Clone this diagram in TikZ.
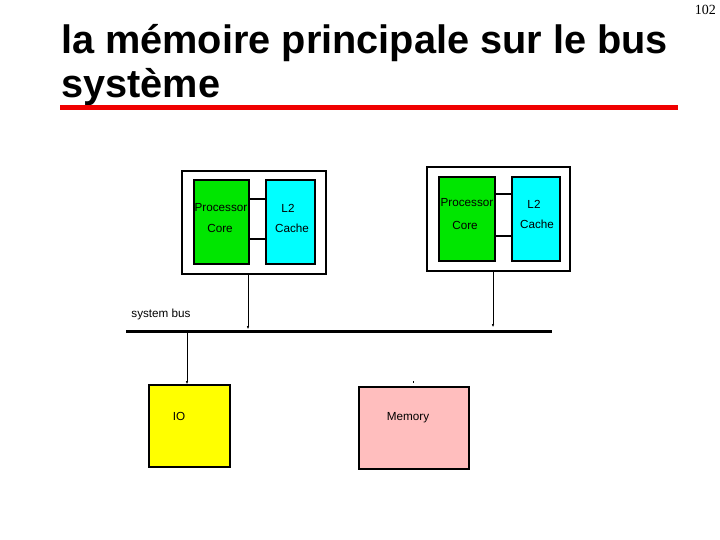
\documentclass[tikz,border=0pt]{standalone}
\usepackage{fontspec}
\setmainfont{Liberation Sans}
\newfontfamily\pagefont{Liberation Serif}
\usetikzlibrary{arrows.meta}
\definecolor{coregreen}{RGB}{0,230,0}
\definecolor{cachecyan}{RGB}{0,255,255}
\definecolor{iobox}{RGB}{255,255,0}
\definecolor{membox}{RGB}{255,190,190}
\definecolor{titlered}{RGB}{240,0,0}
\tikzset{
  unitbox/.style={draw, line width=1.6pt, anchor=north west, inner sep=0pt},
  lbl/.style={font=\fontsize{11.7}{14}\selectfont, inner sep=0pt},
  buslink/.style={-{Latex[length=3pt,width=2.5pt]}},
}
\begin{document}
\begin{tikzpicture}[x=1pt,y=-1pt]
            \useasboundingbox (0,0) rectangle (720,540);
            % title
            \node[anchor=base west, inner sep=0pt, font=\bfseries\fontsize{39.7}{46}\selectfont] (t1) at (61,54) {la mémoire principale sur le bus};
            \node[anchor=base west, inner sep=0pt, font=\bfseries\fontsize{39.7}{46}\selectfont] (t2) at (61,98) {système};
            \draw[titlered, line width=5pt] (60,108) -- (678,108);
            \node[anchor=north east, inner sep=0pt, font=\pagefont\fontsize{14}{16}\selectfont] (pg) at (716,5) {102};
            % left processor
            \node[unitbox, minimum width=144, minimum height=103] (cpuA) at (181,170) {};
            \node[unitbox, fill=coregreen, minimum width=55, minimum height=84] (coreA) at (193,179) {};
            \node[unitbox, fill=cachecyan, minimum width=49, minimum height=84] (cacheA) at (265,179) {};
            \draw[line width=1.6pt] (250,199) -- (265,199);
            \draw[line width=1.6pt] (250,239) -- (265,239);
            \node[lbl] (procA) at (221,208) {Processor};
            \node[lbl] (cA) at (220,228) {Core};
            \node[lbl] (l2A) at (288,208) {L2};
            \node[lbl] (chA) at (292,228) {Cache};
            % right processor
            \node[unitbox, minimum width=143, minimum height=104] (cpuB) at (426,166) {};
            \node[unitbox, fill=coregreen, minimum width=56, minimum height=84] (coreB) at (438,176) {};
            \node[unitbox, fill=cachecyan, minimum width=48, minimum height=84] (cacheB) at (511,176) {};
            \draw[line width=1.6pt] (496,194) -- (511,194);
            \draw[line width=1.6pt] (496,236) -- (511,236);
            \node[lbl] (procB) at (467,203) {Processor};
            \node[lbl] (cB) at (465,225) {Core};
            \node[lbl] (l2B) at (534,204) {L2};
            \node[lbl] (chB) at (537,224) {Cache};
            % bus
            \coordinate (busL) at (126,331);
            \coordinate (busR) at (552,331);
            \draw[line width=3pt] (busL) -- (busR);
            \node[lbl] (buslbl) at (161,314) {system bus};
            \coordinate (tapA) at (248,329);
            \coordinate (tapB) at (493,327);
            \draw[buslink] (cpuA.south -| tapA) -- (tapA);
            \draw[buslink] (cpuB.south -| tapB) -- (tapB);
            % io and memory
            \node[unitbox, fill=iobox, minimum width=81, minimum height=82] (io) at (148,384) {};
            \node[unitbox, fill=membox, minimum width=110, minimum height=82] (mem) at (358,386) {};
            \node[lbl] (iolbl) at (179,416) {IO};
            \node[lbl] (memlbl) at (408,418) {Memory};
            \coordinate (tapIO) at (187,331);
            \draw[buslink] (tapIO) -- (io.north -| tapIO);
            \draw (413,381) -- (413,383);
        \end{tikzpicture}
\end{document}
